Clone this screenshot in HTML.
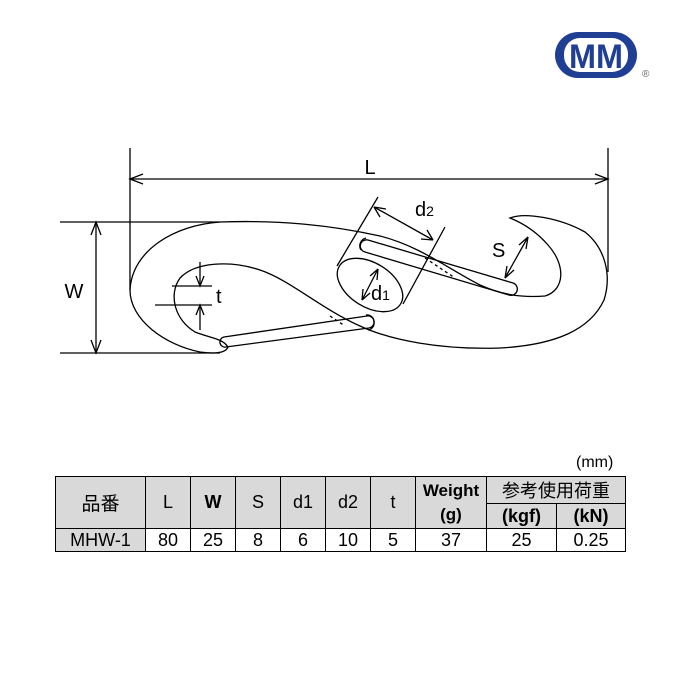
<!DOCTYPE html>
<html><head><meta charset="utf-8"><style>
body{margin:0;width:680px;height:680px;background:#fff;position:relative;font-family:"Liberation Sans","Noto Sans CJK JP",sans-serif;overflow:hidden}
table{position:absolute;left:55px;top:476px;border-collapse:collapse;font-size:18px}
td{border:1px solid #000;text-align:center;padding:0;height:22px}
.h{background:#d9d9d9}
</style></head><body>
<svg width="680" height="680" style="position:absolute;left:0;top:0" fill="none" stroke="#000" stroke-width="1.3">
<!-- logo -->
<rect x="555" y="32" width="82" height="46" rx="23" fill="#1f3f95" stroke="none"/>
<rect x="564" y="38" width="64" height="34" rx="16" fill="#fff" stroke="none"/>
<text x="596" y="68" font-size="34" font-weight="bold" fill="#1f3f95" stroke="none" text-anchor="middle" font-family="Liberation Sans" textLength="54" lengthAdjust="spacingAndGlyphs">MM</text>
<text x="642" y="77" font-size="10" fill="#666" stroke="none">®</text>
<!-- L dim -->
<line x1="130" y1="148" x2="130" y2="290"/><line x1="608" y1="148" x2="608" y2="272"/>
<line x1="130" y1="179" x2="608" y2="179"/>
<path d="M143 174 L130 179 L143 184 M595 174 L608 179 L595 184"/>
<text x="370" y="174" font-size="20" fill="#000" stroke="none" text-anchor="middle">L</text>
<!-- W dim -->
<line x1="60" y1="222" x2="220" y2="222"/><line x1="60" y1="353" x2="220" y2="353"/>
<line x1="96" y1="222" x2="96" y2="353"/>
<path d="M91 235 L96 222 L101 235 M91 340 L96 353 L101 340"/>
<text x="74" y="298" font-size="20" fill="#000" stroke="none" text-anchor="middle">W</text>
<!-- body -->
<path d="M220 222 C280 220 330 225 380 236 C420 246 450 270 480 285 C500 294 520 298 545 296 C565 290 566 265 548 245 C535 230 520 222 510 218 C525 212 560 218 585 232 C605 248 612 275 604 300 C590 330 555 345 500 348 C440 350 390 340 360 326 C320 308 290 280 260 270 C230 260 195 262 180 278 C168 295 175 320 195 332 C210 338 222 338 228 347 C226 353 215 354 200 352 C165 345 130 320 130 290 C132 250 175 225 220 222 Z"/>
<!-- left gate -->
<path d="M224 337 L367 316 A6 6 0 0 1 369 328 L226 347 A5 5 0 0 1 224 337 Z"/>
<path d="M366 315 A7 7 0 0 1 374 322 A7 7 0 0 1 368 330"/>
<!-- right gate -->
<path d="M368 240 L513 283 A6 6 0 0 1 509 295 L365 252 A6 6 0 0 1 368 240 Z"/>
<path d="M366 238 A8 8 0 0 0 361 250"/>
<path d="M425 258 L455 278" stroke-dasharray="3 3"/>
<path d="M330 316 L345 326" stroke-dasharray="3 3"/>
<!-- d1 d2 cylinder -->
<line x1="378" y1="197" x2="337" y2="266"/><line x1="445" y1="227" x2="403" y2="304"/>
<ellipse cx="370" cy="285" rx="36" ry="22" transform="rotate(32 370 285)"/>
<line x1="374" y1="207" x2="433" y2="240"/>
<path d="M374 207 L386 209 M374 207 L380 217 M433 240 L421 239 M433 240 L427 230"/>
<line x1="378" y1="269" x2="362" y2="300"/>
<path d="M378 269 L377 280 M378 269 L370 276 M362 300 L363 289 M362 300 L370 293"/>
<text x="415" y="216" font-size="20" fill="#000" stroke="none">d<tspan font-size="14">2</tspan></text>
<text x="371" y="300" font-size="20" fill="#000" stroke="none">d<tspan font-size="14">1</tspan></text>
<!-- S -->
<line x1="528" y1="237" x2="505" y2="278"/>
<path d="M528 237 L526 249 M528 237 L519 245 M505 278 L507 266 M505 278 L514 270"/>
<text x="492" y="257" font-size="20" fill="#000" stroke="none">S</text>
<!-- t -->
<line x1="172" y1="286" x2="212" y2="286"/><line x1="155" y1="305" x2="212" y2="305"/>
<line x1="200" y1="262" x2="200" y2="286"/><line x1="200" y1="305" x2="200" y2="330"/>
<path d="M196 276 L200 286 L204 276 M196 315 L200 305 L204 315"/>
<text x="216" y="303" font-size="20" fill="#000" stroke="none">t</text>
</svg>
<div style="position:absolute;left:576px;top:454px;font-size:16px">(mm)</div>
<table>
<tr><td class="h" rowspan="2" style="width:89px;font-size:19px">品番</td><td class="h" rowspan="2" style="width:44px">L</td><td class="h" rowspan="2" style="width:44px;font-weight:bold">W</td><td class="h" rowspan="2" style="width:44px">S</td><td class="h" rowspan="2" style="width:44px">d1</td><td class="h" rowspan="2" style="width:44px">d2</td><td class="h" rowspan="2" style="width:44px">t</td><td class="h" rowspan="2" style="width:70px;font-weight:bold;line-height:24px;font-size:17px">Weight<br>(g)</td><td class="h" colspan="2" style="height:24px;font-size:18px">参考使用荷重</td></tr>
<tr><td class="h" style="width:69px;font-weight:bold;height:24px">(kgf)</td><td class="h" style="width:68px;font-weight:bold">(kN)</td></tr>
<tr><td class="h">MHW-1</td><td>80</td><td>25</td><td>8</td><td>6</td><td>10</td><td>5</td><td>37</td><td>25</td><td>0.25</td></tr>
</table>
</body></html>
